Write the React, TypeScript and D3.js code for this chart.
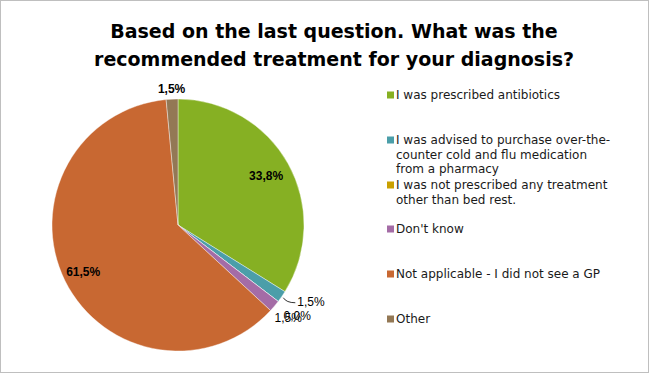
import React from "react";
import * as d3 from "d3";

const categories = [
  "I was prescribed antibiotics",
  "I was advised to purchase over-the-counter cold and flu medication from a pharmacy",
  "I was not prescribed any treatment other than bed rest.",
  "Don't know",
  "Not applicable - I did not see a GP",
  "Other",
];
const values = [33.8, 1.5, 0.0, 1.5, 61.5, 1.5];
const valueLabels = ["33,8%", "1,5%", "0,0%", "1,5%", "61,5%", "1,5%"];
const legendLines = [
  ["I was prescribed antibiotics"],
  ["I was advised to purchase over-the-", "counter cold and flu medication", "from a pharmacy"],
  ["I was not prescribed any treatment", "other than bed rest."],
  ["Don't know"],
  ["Not applicable - I did not see a GP"],
  ["Other"],
];
const colors = ["#86B023", "#4B9EA9", "#C9A000", "#A46CA6", "#C86832", "#937855"];
const titleLines = ["Based on the last question. What was the", "recommended treatment for your diagnosis?"];

// label placement style: inside (fraction of radius) or outside (extra px)
const labelMode = ["inside", "leader", "outside", "outside", "inside", "outside"];
const labelRadius = [0.8, 0, 24, 18, 0.84, 10];
const legendY = [95, 140, 185, 229, 274, 319];

const W = 650;
const H = 374;
const FONT = "'DejaVu Sans', sans-serif";
const LABEL_FONT = "'Liberation Sans', Arial, sans-serif";

export default function App() {
  const cx = 178;
  const cy = 225;
  const R = 126;
  const pie = d3.pie<number>().sort(null).value((d) => d);
  const arcs = pie(values);
  const arcGen = d3.arc<d3.PieArcDatum<number>>().innerRadius(0).outerRadius(R);

  const labelPos = (a: d3.PieArcDatum<number>, i: number) => {
    const mid = (a.startAngle + a.endAngle) / 2;
    let r: number;
    if (labelMode[i] === "inside") r = R * labelRadius[i];
    else r = R + labelRadius[i];
    return [Math.sin(mid) * r, -Math.cos(mid) * r];
  };

  return (
    <svg
      width={W}
      height={H}
      style={{ position: "fixed", left: 0, top: 0, background: "#fff" }}
      fontFamily={FONT}
    >
      <rect x={0.5} y={0.5} width={W - 2} height={H - 2} fill="#fff" stroke="#BFBFBF" />
      {titleLines.map((t, i) => (
        <text
          key={i}
          x={334}
          y={38 + i * 28}
          textAnchor="middle"
          fontSize={19}
          fontWeight="bold"
          fill="#000"
        >
          {t}
        </text>
      ))}
      <g transform={`translate(${cx},${cy})`}>
        {arcs.map((a, i) => (
          <path key={i} d={arcGen(a) || ""} fill={colors[i]} stroke="#fff" strokeWidth={0.4} />
        ))}
        {arcs.map((a, i) => {
          if (labelMode[i] === "leader") {
            const mid = (a.startAngle + a.endAngle) / 2;
            const ex = Math.sin(mid) * (R + 2);
            const ey = -Math.cos(mid) * (R + 2);
            return (
              <g key={i}>
                <path
                  d={`M${ex},${ey}Q${ex + 3},${ey + 5} ${ex + 12},${ey + 5}`}
                  fill="none"
                  stroke="#000"
                  strokeWidth={0.8}
                />
                <text x={ex + 14} y={ey + 4} dy="0.35em" fontSize={12} fontFamily={LABEL_FONT} fill="#000">
                  {valueLabels[i]}
                </text>
              </g>
            );
          }
          const [x, y] = labelPos(a, i);
          return (
            <text
              key={i}
              x={x}
              y={y}
              dy="0.35em"
              textAnchor="middle"
              fontSize={12}
              fontFamily={LABEL_FONT}
              fontWeight={labelMode[i] === "inside" || i === 5 ? "bold" : "normal"}
              fill="#000"
            >
              {valueLabels[i]}
            </text>
          );
        })}
      </g>
      {categories.map((c, i) => (
        <g key={c}>
          <rect x={387} y={legendY[i] - 3.5} width={7} height={7} fill={colors[i]} />
          {legendLines[i].map((line, j) => (
            <text key={j} x={396} y={legendY[i] + j * 14.5} dy="0.35em" fontSize={12} fill="#1a1a1a">
              {line}
            </text>
          ))}
        </g>
      ))}
    </svg>
  );
}
